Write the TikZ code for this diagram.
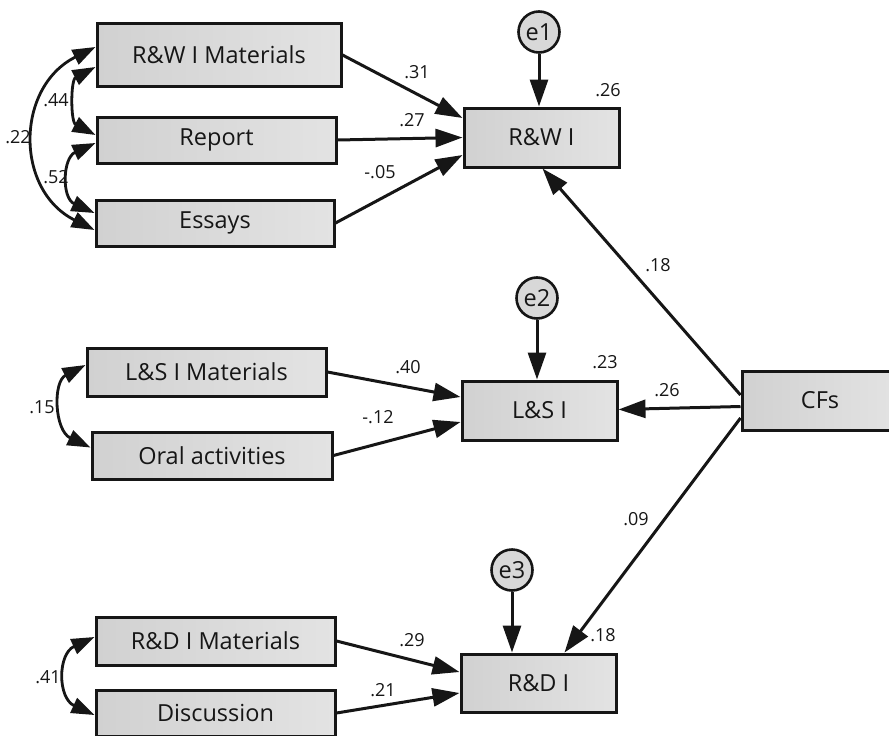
\documentclass[tikz,border=0pt]{standalone}
\usepackage{fontspec}
\setmainfont{Open Sans}
\usetikzlibrary{arrows.meta}
\definecolor{boxgray}{RGB}{216,216,216}
\definecolor{boxdark}{RGB}{209,209,209}
\definecolor{boxlight}{RGB}{227,227,227}
\definecolor{ink}{RGB}{22,22,22}
\begin{document}
\begin{tikzpicture}[x=1pt,y=-1pt,
  box/.style={draw=ink,line width=3pt,left color=boxdark,right color=boxlight,inner sep=0pt,font=\fontsize{23.5}{26}\selectfont,text=ink},
  err/.style={draw=ink,line width=2.6pt,fill=boxgray,circle,inner sep=0pt,minimum size=41pt,font=\fontsize{23.5}{26}\selectfont,text=ink},
  arr/.style={draw=ink,line width=3pt,-{Triangle[length=27pt,width=18pt]}},
  cov/.style={draw=ink,line width=2.8pt,{Triangle[length=23pt,width=16pt]}-{Triangle[length=23pt,width=16pt]}},
  lab/.style={font=\fontsize{18}{20}\selectfont,text=ink,inner sep=0pt}]
\useasboundingbox (0,0) rectangle (889,736);
\clip (0,0) rectangle (889,736);

% observed boxes
\node[box,minimum width=244pt,minimum height=63pt] (rwm) at (219,55) {R\&W I Materials};
\node[box,minimum width=239pt,minimum height=46pt] (rep) at (216.5,140) {Report};
\node[box,minimum width=238pt,minimum height=46pt] (ess) at (215,223) {Essays};
\node[box,minimum width=155pt,minimum height=59pt] (rwi) at (541.5,137.5) {R\&W I};
\node[err] (e1) at (539,32) {e1};

\node[box,minimum width=239pt,minimum height=48pt] (lsm) at (206.5,372) {L\&S I Materials};
\node[box,minimum width=240pt,minimum height=47pt] (ora) at (212,455.5) {Oral activities};
\node[box,minimum width=155pt,minimum height=59pt] (lsi) at (539.5,410.5) {L\&S I};
\node[err] (e2) at (537,298) {e2};

\node[box,minimum width=156pt,minimum height=59pt] (cfs) at (820,400.5) {CFs};

\node[box,minimum width=239pt,minimum height=48pt] (rdm) at (215.5,641) {R\&D I Materials};
\node[box,minimum width=239pt,minimum height=46pt] (dis) at (215.5,713) {Discussion};
\node[box,minimum width=155pt,minimum height=58pt] (rdi) at (538.5,683) {R\&D I};
\node[err] (e3) at (512,570) {e3};

% regression paths
\draw[arr] (rwm.east) -- ([yshift=19.5pt]rwi.west);
\draw[arr] (rep.east) -- ([yshift=0pt]rwi.west);
\draw[arr] (ess.east) -- ([yshift=-17.5pt]rwi.west);
\draw[arr] (e1) -- (e1 |- rwi.north);

\draw[arr] (lsm.east) -- ([yshift=13.5pt]lsi.west);
\draw[arr] (ora.east) -- ([yshift=-11.5pt]lsi.west);
\draw[arr] (e2) -- (e2 |- lsi.north);

\draw[arr] (rdm.east) -- ([yshift=11pt]rdi.west);
\draw[arr] (dis.east) -- ([yshift=-10pt]rdi.west);
\draw[arr] (e3) -- (e3 |- rdi.north);

\draw[arr] ([yshift=5.5pt]cfs.west) -- ([xshift=1pt]rwi.south);
\draw[arr] ([yshift=-6pt]cfs.west) -- ([yshift=1pt]lsi.east);
\draw[arr] ([yshift=-17.5pt]cfs.west) -- ([xshift=26pt]rdi.north);

% covariances
\draw[cov] ([yshift=-12pt]rwm.west) .. controls +(-25,13) and +(-25,-13) .. ([yshift=5pt]rep.west);
\draw[cov] ([yshift=-3pt]rep.west) .. controls +(-33,15) and +(-33,-15) .. ([yshift=10pt]ess.west);
\draw[cov] ([yshift=8pt]rwm.west) .. controls +(-80,40) and +(-80,-40) .. ([yshift=-7pt]ess.west);
\draw[cov] ([yshift=7pt]lsm.west) .. controls +(-33,17) and +(-36,-17) .. ([yshift=8pt]ora.west);
\draw[cov] ([yshift=4pt]rdm.west) .. controls +(-37,17) and +(-37,-17) .. ([yshift=-2pt]dis.west);

% labels
\node[lab] (l44) at (56,100) {.44};
\node[lab] (l52) at (56,177) {.52};
\node[lab] (l22) at (18,137) {.22};
\node[lab] (l31) at (417,72) {.31};
\node[lab] (l27) at (412,120) {.27};
\node[lab] (l05) at (380,172) {-.05};
\node[lab] (r26) at (608,90) {.26};
\node[lab] (c18) at (658,265) {.18};
\node[lab] (l15) at (42,407) {.15};
\node[lab] (l40) at (408,367) {.40};
\node[lab] (l12) at (378,417) {-.12};
\node[lab] (r23) at (605,362) {.23};
\node[lab] (c26) at (667,390) {.26};
\node[lab] (c09) at (636,519) {.09};
\node[lab] (l41) at (48,677) {.41};
\node[lab] (l29) at (412,640) {.29};
\node[lab] (l21) at (383,690) {.21};
\node[lab] (r18) at (603,635) {.18};
\end{tikzpicture}
\end{document}
